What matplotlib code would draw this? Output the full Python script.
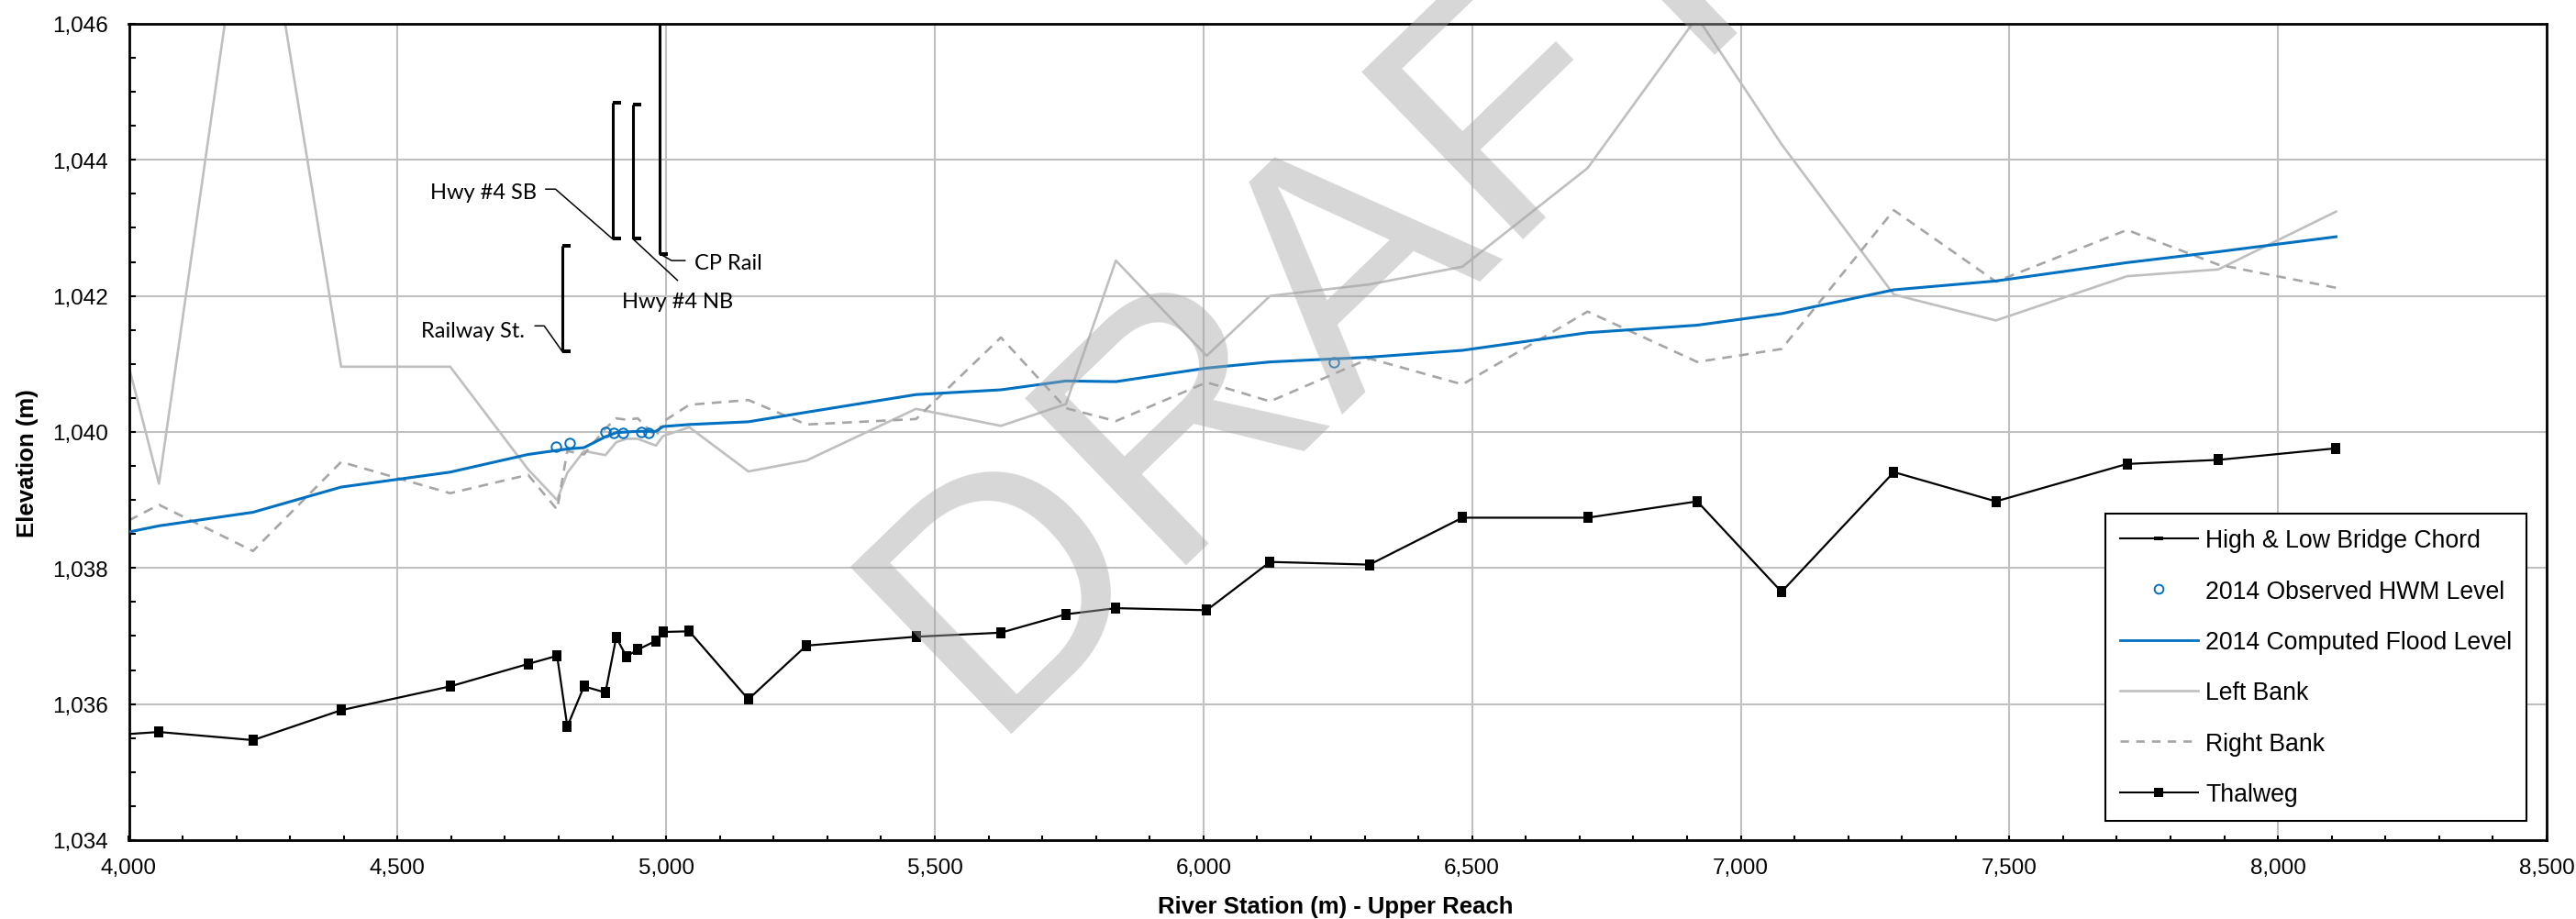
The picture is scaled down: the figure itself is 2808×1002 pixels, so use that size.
import matplotlib
matplotlib.use('Agg')
import matplotlib.pyplot as plt
from matplotlib.ticker import MultipleLocator, FuncFormatter
from matplotlib.lines import Line2D

plt.rcParams['font.family'] = ['Liberation Sans', 'DejaVu Sans']

# ---------------- data ----------------
stations = [4000, 4056, 4231, 4395, 4598, 4743, 4797, 4816, 4847, 4887, 4907, 4926,
            4947, 4981, 4994, 5043, 5153, 5261, 5465, 5623, 5744, 5837, 6006, 6124,
            6309, 6482, 6715, 6919, 7076, 7285, 7475, 7719, 7889, 8108]

thalweg = [1035.56, 1035.59, 1035.47, 1035.91, 1036.26, 1036.59, 1036.71, 1035.67,
           1036.26, 1036.17, 1036.98, 1036.70, 1036.80, 1036.93, 1037.06, 1037.07,
           1036.07, 1036.86, 1036.99, 1037.05, 1037.32, 1037.41, 1037.38, 1038.09,
           1038.05, 1038.74, 1038.74, 1038.98, 1037.65, 1039.41, 1038.98, 1039.53,
           1039.59, 1039.76]

flood_2014 = [1038.53, 1038.62, 1038.82, 1039.19, 1039.41, 1039.67, 1039.73, 1039.75,
              1039.77, 1039.93, 1039.99, 1040.00, 1040.01, 1040.01, 1040.08, 1040.11,
              1040.15, 1040.29, 1040.55, 1040.62, 1040.75, 1040.74, 1040.94, 1041.03,
              1041.10, 1041.20, 1041.46, 1041.57, 1041.74, 1042.09, 1042.22, 1042.49,
              1042.65, 1042.87]

left_bank = [1040.96, 1039.24, 1048.90, 1040.96, 1040.96, 1039.45, 1039.00, 1039.40,
             1039.72, 1039.66, 1039.85, 1039.90, 1039.90, 1039.80, 1039.94, 1040.07,
             1039.42, 1039.58, 1040.34, 1040.09, 1040.41, 1042.52, 1041.12, 1042.00,
             1042.17, 1042.43, 1043.88, 1046.10, 1044.23, 1042.02, 1041.64, 1042.29,
             1042.39, 1043.24]

right_bank = [1038.70, 1038.93, 1038.25, 1039.56, 1039.10, 1039.37, 1038.86, 1039.72,
              1039.67, 1040.05, 1040.20, 1040.18, 1040.20, 1039.93, 1040.15, 1040.40,
              1040.47, 1040.11, 1040.19, 1041.39, 1040.35, 1040.16, 1040.73, 1040.45,
              1041.08, 1040.70, 1041.77, 1041.03, 1041.22, 1043.26, 1042.21, 1042.97,
              1042.46, 1042.12]

hwm_x = [4795, 4820, 4887, 4903, 4919, 4954, 4967, 6242]
hwm_y = [1039.79, 1039.84, 1040.00, 1039.98, 1039.98, 1040.00, 1039.99, 1041.03]

bridge_names = ['Railway St.', 'Hwy #4 SB', 'Hwy #4 NB', 'CP Rail']
bridge_x = [4807, 4900, 4938, 4988]
bridge_low = [1041.18, 1042.84, 1042.84, 1042.62]
bridge_high = [1042.74, 1044.84, 1044.82, 1048.50]

x_ticks = [4000, 4500, 5000, 5500, 6000, 6500, 7000, 7500, 8000, 8500]
y_ticks = [1034, 1036, 1038, 1040, 1042, 1044, 1046]

# annotation layout: text x, text y (baseline), alignment, leader points from text towards bridge
label_layout = {
    'Railway St.': (4736, 1041.40, 'right', [(4756, 1041.56), (4773, 1041.56)]),
    'Hwy #4 SB': (4759, 1043.44, 'right', [(4776, 1043.57), (4794, 1043.57)]),
    'Hwy #4 NB': (5021, 1041.83, 'center', [(5021, 1042.23)]),
    'CP Rail': (5052, 1042.40, 'left', [(5035, 1042.52), (5010, 1042.52)]),
}

# ---------------- styles ----------------
BLUE = '#0070C0'
LEFT_GRAY = '#BFBFBF'
RIGHT_GRAY = '#A6A6A6'
GRID = '#C0C0C0'

thalweg_marker = [(-0.4, -0.5), (0.4, -0.5), (0.4, 0.5), (-0.4, 0.5), (-0.4, -0.5)]
bridge_marker = [(0, -0.25), (1, -0.25), (1, 0.25), (0, 0.25), (0, -0.25)]
bridge_leg_marker = [(-0.5, -0.2), (0.5, -0.2), (0.5, 0.2), (-0.5, 0.2), (-0.5, -0.2)]

W, H = 2808, 1003
fig = plt.figure(figsize=(W / 100, H / 100), dpi=100)
ax = fig.add_axes([140.5 / W, 1 - 917 / H, (2776 - 140.5) / W, 890 / H])

ax.plot(stations, left_bank, color=LEFT_GRAY, lw=1.9, zorder=2)
ax.plot(stations, right_bank, color=RIGHT_GRAY, lw=1.9, dashes=(4, 3), zorder=2)
ax.plot(stations, thalweg, color='black', lw=1.6, marker=thalweg_marker, ms=8.5,
        mfc='black', mec='black', mew=0, markevery=slice(1, None), zorder=3)
ax.plot(stations, flood_2014, color=BLUE, lw=2.2, zorder=4)
ax.plot(hwm_x, hwm_y, ls='none', marker='o', ms=7.5, mfc='none', mec=BLUE, mew=1.4, zorder=5)

for name, bx, lo, hi in zip(bridge_names, bridge_x, bridge_low, bridge_high):
    ax.plot([bx, bx], [lo, hi], color='black', lw=2.2, marker=bridge_marker, ms=13,
            mfc='black', mec='black', mew=0, zorder=5, solid_capstyle='butt')
    tx, ty, ha, pts = label_layout[name]
    path = pts + [(bx, lo)]
    px, py = zip(*path)
    ax.plot(px, py, color='black', lw=1.1, zorder=5)
    ax.text(tx, ty, name, ha=ha, va='baseline', fontsize=17,
            family=['Lato', 'DejaVu Sans'], zorder=6)

ax.set_xlim(4000, 8500)
ax.set_ylim(1034, 1046)
ax.set_xticks(x_ticks)
ax.set_yticks(y_ticks)
ax.xaxis.set_minor_locator(MultipleLocator(100))
ax.yaxis.set_minor_locator(MultipleLocator(0.5))
fmt = FuncFormatter(lambda v, p: f'{v:,.0f}')
ax.xaxis.set_major_formatter(fmt)
ax.yaxis.set_major_formatter(fmt)

ax.grid(True, which='major', color=GRID, lw=1.5)
ax.set_axisbelow(True)
for s in ax.spines.values():
    s.set_linewidth(2.0)
    s.set_color('black')

ax.tick_params(which='both', direction='in', width=1.5, color='black')
ax.tick_params(axis='y', which='both', length=5, pad=16.5, labelsize=17.5)
ax.tick_params(axis='x', which='both', length=3.5, pad=14, labelsize=17.5)

ax.set_xlabel('River Station (m) - Upper Reach', fontsize=18.5, fontweight='bold')
ax.set_ylabel('Elevation (m)', fontsize=18.5, fontweight='bold')
ax.xaxis.set_label_coords(0.4992, -0.0674)
ax.yaxis.set_label_coords(-0.0374, 0.463)

handles = [
    Line2D([], [], color='black', lw=1.5, marker=bridge_leg_marker, ms=7.5, mfc='black', mec='black', mew=0),
    Line2D([], [], ls='none', marker='o', ms=7, mfc='none', mec=BLUE, mew=1.4),
    Line2D([], [], color=BLUE, lw=2.0),
    Line2D([], [], color=LEFT_GRAY, lw=1.9),
    Line2D([], [], color=RIGHT_GRAY, lw=1.9, dashes=(3.5, 3)),
    Line2D([], [], color='black', lw=1.5, marker='s', ms=7, mfc='black', mec='black', mew=0),
]
labels = ['High & Low Bridge Chord', '2014 Observed HWM Level', '2014 Computed Flood Level',
          'Left Bank', 'Right Bank', 'Thalweg']
leg = ax.legend(handles, labels, loc='lower right', bbox_to_anchor=(0.9917, 0.0236),
                borderaxespad=0, frameon=True, fancybox=False, edgecolor='black',
                framealpha=1, fontsize=19.2, handlelength=3.2, handletextpad=0.3,
                labelspacing=1.1, borderpad=0.6)
leg.get_frame().set_linewidth(1.5)

# watermark
fig.text(1514 / W, 1 - 374 / H, 'DRAFT', fontsize=265, color='#A6A6A6', alpha=0.45,
         rotation=44, rotation_mode='anchor', ha='center', va='baseline', zorder=10)

fig.savefig('out.png', dpi=100)
